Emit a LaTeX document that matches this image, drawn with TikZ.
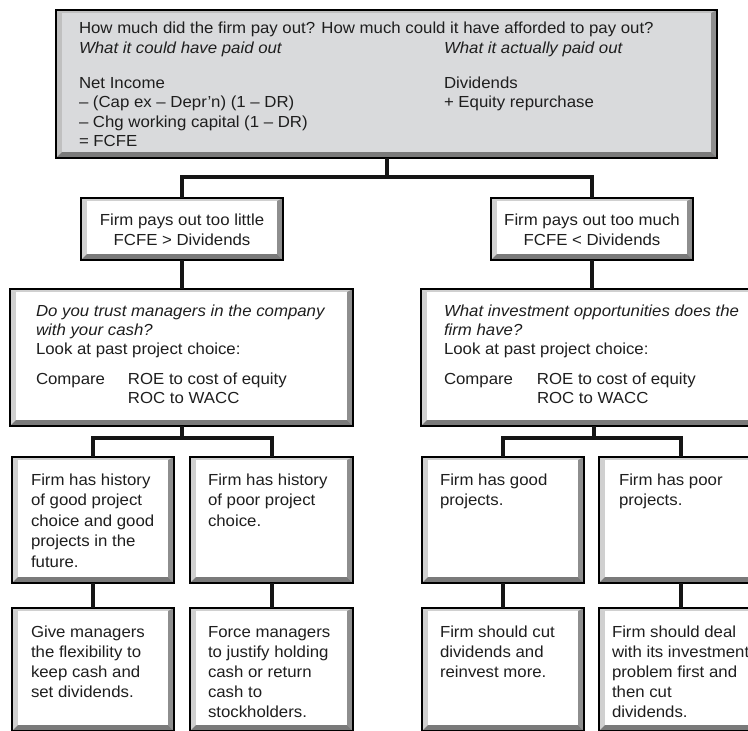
\documentclass[tikz,border=0pt]{standalone}
\usepackage{fontspec}
\setmainfont{Liberation Sans}[FakeStretch=1.05]
\usetikzlibrary{calc}
\definecolor{txtcol}{HTML}{1E1E1E}
\definecolor{bevL}{HTML}{D0D0D0}
\definecolor{bevR}{HTML}{8E8E8E}
\definecolor{bevB}{HTML}{7A7A7A}
\definecolor{topface}{HTML}{D9DADC}
\definecolor{topL}{HTML}{C0C0C0}
\definecolor{linecol}{HTML}{151515}
\tikzset{
  facecol/.store in=\bevface, facecol=white,
  leftcol/.store in=\bevleft, leftcol=bevL,
  bevbox/.style={rectangle, draw=black, line width=1.1pt, inner sep=0pt, outer sep=0pt, anchor=north west,
    path picture={
      \fill[fill=\bevleft] (path picture bounding box.south west) rectangle (path picture bounding box.north east);
      \fill[bevR] (path picture bounding box.north east) -- (path picture bounding box.south east)
        -- ([shift={(-6pt,6pt)}]path picture bounding box.south east)
        -- ([shift={(-6pt,-3pt)}]path picture bounding box.north east) -- cycle;
      \fill[bevB] (path picture bounding box.south west) -- (path picture bounding box.south east)
        -- ([shift={(-6pt,6pt)}]path picture bounding box.south east)
        -- ([shift={(6pt,6pt)}]path picture bounding box.south west) -- cycle;
      \fill[fill=\bevface] ([shift={(6pt,-3pt)}]path picture bounding box.north west)
        rectangle ([shift={(-6pt,6pt)}]path picture bounding box.south east);
    }},
  conn/.style={draw=linecol, line width=4pt},
  % multi-line nodes: base anchor = baseline of the LAST line
  txt/.style={inner sep=0pt, outer sep=0pt, align=left, anchor=base west, text=txtcol,
    font=\fontsize{16pt}{20pt}\selectfont},
}
\begin{document}
\begin{tikzpicture}[x=1pt, y=-1pt]
\useasboundingbox (0,0) rectangle (748,731);
\fill[white] (0,0) rectangle (748,731);
\clip (0,0) rectangle (748,731);

% boxes
\node[bevbox, minimum width=661pt, minimum height=148pt, facecol=topface, leftcol=topL] (top) at (56,10) {};
\node[bevbox, minimum width=202pt, minimum height=62pt] (p1) at (81,198) {};
\node[bevbox, minimum width=202pt, minimum height=62pt] (p2) at (491,198) {};
\node[bevbox, minimum width=343pt, minimum height=137pt] (q1) at (10,289) {};
\node[bevbox, minimum width=345pt, minimum height=137pt] (q2) at (421,289) {};
\node[bevbox, minimum width=162pt, minimum height=126pt] (r1) at (12,457) {};
\node[bevbox, minimum width=163pt, minimum height=126pt] (r2) at (190,457) {};
\node[bevbox, minimum width=162pt, minimum height=126pt] (r3) at (422,457) {};
\node[bevbox, minimum width=164pt, minimum height=126pt] (r4) at (599,457) {};
\node[bevbox, minimum width=162pt, minimum height=123pt] (s1) at (12,608) {};
\node[bevbox, minimum width=163pt, minimum height=123pt] (s2) at (190,608) {};
\node[bevbox, minimum width=162pt, minimum height=123pt] (s3) at (422,608) {};
\node[bevbox, minimum width=164pt, minimum height=123pt] (s4) at (599,608) {};

% connectors
\draw[conn] (top.south) -- ++(0,19) coordinate (j1);
\draw[conn] (p1.north) |- (j1) -| (p2.north);
\draw[conn] (p1.south) -- (p1.south |- q1.north);
\draw[conn] (p2.south) -- (p2.south |- q2.north);
\draw[conn] (q1.south) -- ++(0,12) coordinate (j2);
\draw[conn] (r1.north) |- (j2) -| (r2.north);
\draw[conn] (q2.south) -- ++(0,12) coordinate (j3);
\draw[conn] (r3.north) |- (j3) -| (r4.north);
\draw[conn] (r1.south) -- (s1.north);
\draw[conn] (r2.south) -- (s2.north);
\draw[conn] (r3.south) -- (s3.north);
\draw[conn] (r4.south) -- (s4.north);

% texts (positioned at the baseline of their last line)
\node[txt] (t0) at (79,33) {How much did the firm pay out? How much could it have afforded to pay out?};
\node[txt, font=\fontsize{16pt}{19.5pt}\selectfont] (t0l) at (79,146.5)
  {\textit{What it could have paid out}\\[15.5pt]Net Income\\– (Cap ex – Depr’n) (1 – DR)\\– Chg working capital (1 – DR)\\= FCFE};
\node[txt, font=\fontsize{16pt}{19.5pt}\selectfont] (t0r) at (444,107.5)
  {\textit{What it actually paid out}\\[15.5pt]Dividends\\+ Equity repurchase};

\node[txt, align=center, anchor=base] (tp1) at (182,245.5) {Firm pays out too little\\FCFE > Dividends};
\node[txt, align=center, anchor=base] (tp2) at (592,245.5) {Firm pays out too much\\FCFE < Dividends};

\node[txt, font=\fontsize{16pt}{19pt}\selectfont] (tq1) at (36,403)
  {\textit{Do you trust managers in the company}\\\textit{with your cash?}\\Look at past project choice:\\[11pt]\makebox[92pt][l]{Compare}ROE to cost of equity\\\hspace*{92pt}ROC to WACC};
\node[txt, font=\fontsize{16pt}{19pt}\selectfont] (tq2) at (444,403)
  {\textit{What investment opportunities does the}\\\textit{firm have?}\\Look at past project choice:\\[11pt]\makebox[93pt][l]{Compare}ROE to cost of equity\\\hspace*{93pt}ROC to WACC};

\node[txt, font=\fontsize{16pt}{20.5pt}\selectfont] (tr1) at (31,567)
  {Firm has history\\of good project\\choice and good\\projects in the\\future.};
\node[txt, font=\fontsize{16pt}{20.5pt}\selectfont] (tr2) at (208,526)
  {Firm has history\\of poor project\\choice.};
\node[txt, font=\fontsize{16pt}{20.5pt}\selectfont] (tr3) at (440,505.5)
  {Firm has good\\projects.};
\node[txt, font=\fontsize{16pt}{20.5pt}\selectfont] (tr4) at (619,505.5)
  {Firm has poor\\projects.};

\node[txt] (ts1) at (31,697) {Give managers\\the flexibility to\\keep cash and\\set dividends.};
\node[txt] (ts2) at (208,717) {Force managers\\to justify holding\\cash or return\\cash to\\stockholders.};
\node[txt] (ts3) at (440,677) {Firm should cut\\dividends and\\reinvest more.};
\node[txt] (ts4) at (612,717) {Firm should deal\\with its investment\\problem first and\\then cut\\dividends.};
\end{tikzpicture}
\end{document}
